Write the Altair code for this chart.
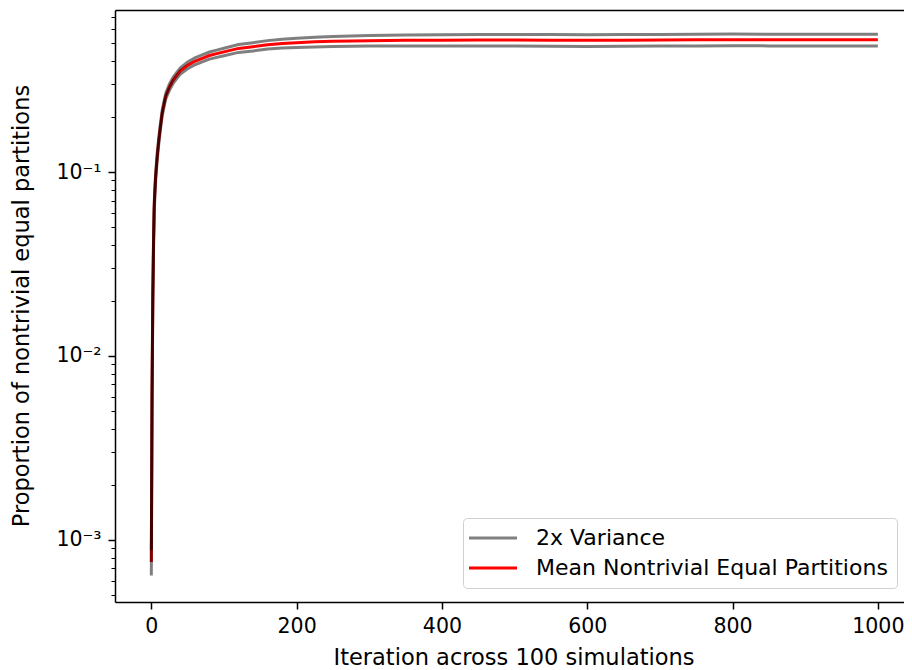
import altair as alt
import pandas as pd

# ---- data ----
iterations = [0, 1, 2, 3, 4, 5, 6, 8, 10, 12, 15, 18, 20, 25, 30, 35, 40, 50, 60, 70,
              80, 90, 100, 120, 140, 160, 180, 200, 225, 250, 300, 350, 400, 450, 500,
              550, 600, 650, 700, 750, 800, 850, 900, 950, 1000]
mean_vals = [0.00076, 0.006, 0.02, 0.04, 0.065, 0.08, 0.095, 0.12, 0.145, 0.17, 0.21,
             0.24, 0.26, 0.29, 0.315, 0.335, 0.355, 0.38, 0.40, 0.415,
             0.43, 0.44, 0.45, 0.47, 0.48, 0.492, 0.50, 0.505, 0.51, 0.514, 0.518,
             0.52, 0.521, 0.522, 0.522, 0.521, 0.52, 0.521, 0.522, 0.523, 0.524,
             0.523, 0.523, 0.523, 0.523]
spread_vals = [0.00012, 0.0008, 0.002, 0.003, 0.004, 0.0045, 0.005, 0.0055, 0.006,
               0.0065, 0.0075, 0.0088, 0.0095, 0.011, 0.012, 0.013, 0.014, 0.016,
               0.017, 0.018, 0.019, 0.020, 0.021, 0.023, 0.025, 0.026, 0.0275, 0.029,
               0.031, 0.032, 0.034, 0.036, 0.037, 0.038, 0.038, 0.038, 0.038, 0.038,
               0.038, 0.038, 0.038, 0.038, 0.038, 0.038, 0.038]
legend_labels = ["2x Variance", "Mean Nontrivial Equal Partitions"]
legend_colors = ["#808080", "#ff0000"]
x_ticks = [0, 200, 400, 600, 800, 1000]
y_major = [0.001, 0.01, 0.1]
y_minor = [k * 10.0 ** e for e in (-4, -3, -2, -1) for k in range(2, 10)
           if 4.6e-4 <= k * 10.0 ** e <= 0.76]

mean_df = pd.DataFrame({"iteration": iterations, "value": mean_vals,
                        "label": legend_labels[1]})
band_df = pd.concat([
    pd.DataFrame({"iteration": iterations,
                  "value": [m + s for m, s in zip(mean_vals, spread_vals)],
                  "series": "upper"}),
    pd.DataFrame({"iteration": iterations,
                  "value": [m - s for m, s in zip(mean_vals, spread_vals)],
                  "series": "lower"}),
])

FONT = "DejaVu Sans"
W, H = 789, 592

x_scale = alt.Scale(domain=[-50, 1036], nice=False, zero=False)
y_scale = alt.Scale(type="log", domain=[4.6e-4, 0.76], nice=False)

x_axis = alt.Axis(values=x_ticks, format="d", grid=False,
                  domain=True, domainColor="black", domainWidth=1.5,
                  tickSize=7, tickWidth=1.5, tickColor="black",
                  labelPadding=7, labelFontSize=20.5, labelColor="black", labelFont=FONT,
                  title="Iteration across 100 simulations", titleFontSize=22.5,
                  titleFont=FONT, titleFontWeight="normal", titleColor="black",
                  titleBaseline="alphabetic", titleY=62, titleX=398.5)

x_axis_top = alt.Axis(orient="top", grid=False, domain=True, domainColor="black",
                      domainWidth=1.5, ticks=False, labels=False, title="")

y_axis_major = alt.Axis(values=y_major, orient="left", grid=False,
                        domain=True, domainColor="black", domainWidth=1.5,
                        tickSize=7, tickWidth=1.5, tickColor="black",
                        labelPadding=7, labelFontSize=20.5, labelColor="black",
                        labelFont=FONT,
                        labelExpr="'10' + (datum.value < 0.005 ? '⁻³' : datum.value < 0.05 ? '⁻²' : '⁻¹')",
                        title="Proportion of nontrivial equal partitions",
                        titleFontSize=22.5, titleFont=FONT, titleFontWeight="normal",
                        titleColor="black", titleX=-82, titleY=295.5)

y_axis_minor = alt.Axis(values=y_minor, orient="left", grid=False, domain=False,
                        labels=False, tickSize=4, tickWidth=1, tickColor="black",
                        title="")

mean_layer = alt.Chart(mean_df).mark_line(strokeWidth=3).encode(
    x=alt.X("iteration:Q", scale=x_scale, axis=x_axis),
    y=alt.Y("value:Q", scale=y_scale, axis=y_axis_major),
    color=alt.Color("label:N", title=None,
                    scale=alt.Scale(domain=legend_labels, range=legend_colors),
                    legend=alt.Legend(orient="none", legendX=348, legendY=508,
                                      symbolType="M-4,0H4", symbolSize=144,
                                      symbolStrokeWidth=3, symbolOffset=10,
                                      labelFontSize=22, labelFont=FONT,
                                      labelColor="black", labelOffset=32,
                                      labelLimit=600, rowPadding=8, padding=9,
                                      strokeColor="#d0d0d0", cornerRadius=4,
                                      fillColor="rgba(255,255,255,0.8)")),
)

band_layer = alt.Chart(band_df).mark_line(strokeWidth=3, color="black",
                                          opacity=0.5).encode(
    x=alt.X("iteration:Q", scale=x_scale, axis=x_axis_top),
    y=alt.Y("value:Q", scale=y_scale, axis=y_axis_minor),
    detail="series:N",
)

chart = alt.layer(mean_layer, band_layer).resolve_axis(
    x="independent", y="independent"
).properties(
    width=W, height=H,
    autosize=alt.AutoSizeParams(type="none"),
    padding={"left": 107, "top": 2, "right": 0, "bottom": 67},
    background="white",
).configure_view(stroke="transparent")

chart.save("out.html", embed_options={"renderer": "svg", "actions": False})
